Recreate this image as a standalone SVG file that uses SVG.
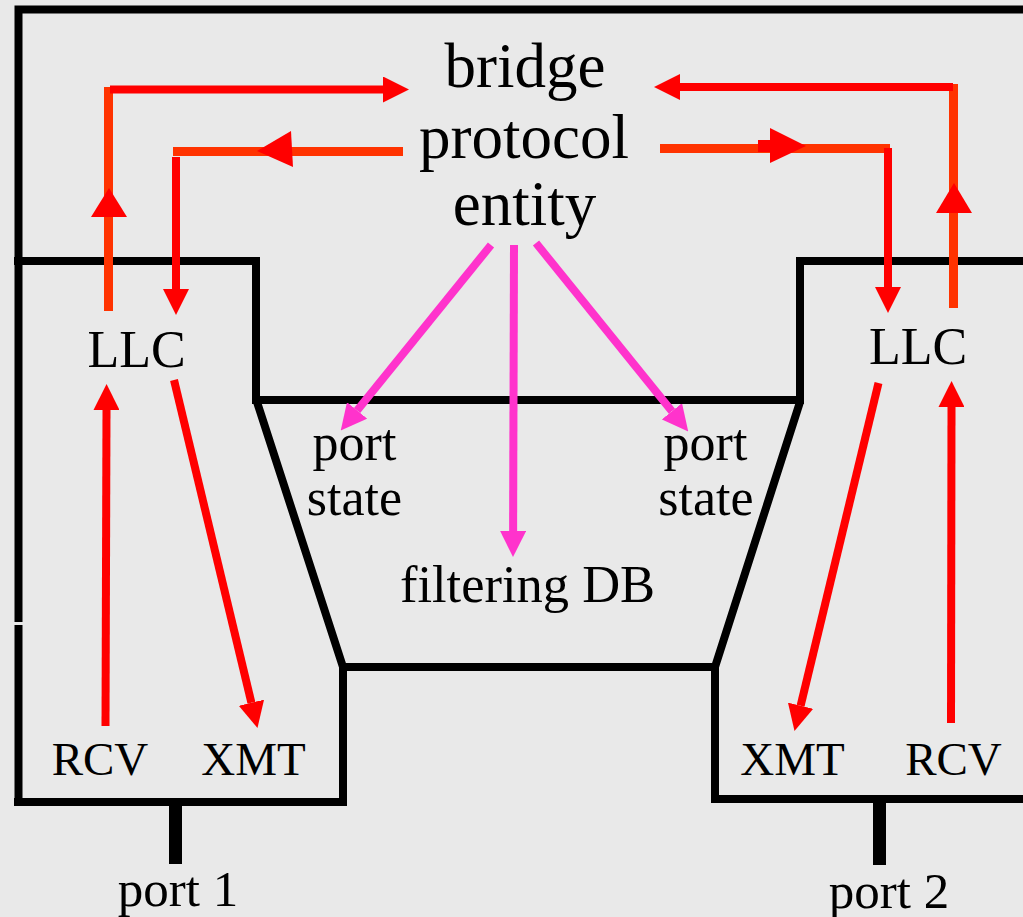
<svg xmlns="http://www.w3.org/2000/svg" width="1023" height="917" viewBox="0 0 1023 917">
<defs>
<style>
.frame{fill:none;stroke:#000;stroke-width:8;stroke-linecap:butt;stroke-linejoin:miter}
.stub{stroke:#000;stroke-width:13}
.t{font-family:"Liberation Serif","Times New Roman",serif;fill:#000;text-anchor:middle}
.red{stroke:#ff0000;fill:none;stroke-width:8}
.org{stroke:#ff3300;fill:none;stroke-width:9}
.mag{stroke:#ff33cc;fill:none;stroke-width:8}
.rh{fill:#ff0000}
.mh{fill:#ff33cc}
</style>
<marker id="ar" markerUnits="userSpaceOnUse" markerWidth="26" markerHeight="26" refX="0" refY="12" orient="auto" viewBox="0 0 24 24">
<path d="M0,0 L24,12 L0,24 z" fill="#ff0000"/>
</marker>
<marker id="am" markerUnits="userSpaceOnUse" markerWidth="26" markerHeight="26" refX="0" refY="12" orient="auto" viewBox="0 0 24 24">
<path d="M0,0 L24,12 L0,24 z" fill="#ff33cc"/>
</marker>
</defs>
<rect x="0" y="0" width="1023" height="917" fill="#e9e9e9"/>

<g id="frame">
<path class="frame" d="M1023,9.5 H18.5 V622"/>
<path class="frame" d="M18.5,625 V806"/>
<path class="frame" d="M14,261 H256 V400 H800 V261 H1023"/>
<path class="frame" d="M257,402 L343,667 H715 L800,402"/>
<path class="frame" d="M343,667 V802 H14"/>
<path class="frame" d="M715,667 V799 H1023"/>
</g>

<g id="bridge-protocol-entity">
<text class="t" x="525" y="87" font-size="63">bridge</text>
<text class="t" x="524" y="158" font-size="63">protocol</text>
<text class="t" x="524.5" y="225" font-size="63">entity</text>
</g>

<g id="llc-left"><text class="t" x="136.5" y="367" font-size="52">LLC</text></g>
<g id="llc-right"><text class="t" x="918" y="364" font-size="52">LLC</text></g>

<g id="port-state-left">
<text class="t" x="354.5" y="460" font-size="52">port</text>
<text class="t" x="354.5" y="515" font-size="52">state</text>
</g>
<g id="port-state-right">
<text class="t" x="705.5" y="460" font-size="52">port</text>
<text class="t" x="706" y="515" font-size="52">state</text>
</g>
<g id="filtering-db"><text class="t" x="527.5" y="602" font-size="52.5">filtering DB</text></g>

<g id="rcv-left"><text class="t" x="100" y="775" font-size="47">RCV</text></g>
<g id="xmt-left"><text class="t" x="253.5" y="775" font-size="47">XMT</text></g>
<g id="xmt-right"><text class="t" x="792.5" y="775" font-size="47">XMT</text></g>
<g id="rcv-right"><text class="t" x="953.5" y="775" font-size="47">RCV</text></g>

<g id="port1">
<line class="stub" x1="175.5" y1="806" x2="175.5" y2="864"/>
<text class="t" x="178" y="906" font-size="51">port 1</text>
</g>
<g id="port2">
<line class="stub" x1="879.5" y1="803" x2="879.5" y2="865"/>
<text class="t" x="889" y="908" font-size="51">port 2</text>
</g>

<g id="connectors">
<!-- left outer loop -->
<line class="org" x1="108.5" y1="311" x2="108.5" y2="87"/>
<polygon class="rh" points="109,188 91,217 127,217"/>
<line class="red" x1="110" y1="89.5" x2="383" y2="89.5" stroke-width="7" marker-end="url(#ar)"/>
<!-- left inner loop -->
<line class="org" x1="403" y1="151.5" x2="173" y2="151.5"/>
<polygon class="rh" points="257,151 291,131 293,167"/>
<line class="red" x1="176" y1="157" x2="176" y2="289" marker-end="url(#ar)"/>
<!-- right outer loop -->
<line class="org" x1="953.5" y1="308" x2="953.5" y2="84"/>
<polygon class="rh" points="954,183 936,213 972,213"/>
<line class="red" x1="953" y1="87" x2="680" y2="87" marker-end="url(#ar)"/>
<!-- right inner loop -->
<line class="org" x1="660" y1="148.5" x2="890" y2="148.5"/>
<rect class="rh" x="758" y="140" width="12" height="12"/>
<polygon class="rh" points="770,128 806,146 770,163"/>
<line class="red" x1="888" y1="148" x2="888" y2="287" marker-end="url(#ar)"/>
<!-- left LLC -->
<line class="red" x1="105.5" y1="726" x2="106.5" y2="410" marker-end="url(#ar)"/>
<line class="red" x1="174" y1="380" x2="251.4" y2="702.7" marker-end="url(#ar)"/>
<!-- right LLC -->
<line class="red" x1="878.5" y1="383" x2="800.6" y2="705.7" marker-end="url(#ar)"/>
<line class="red" x1="951" y1="723" x2="951.5" y2="407" marker-end="url(#ar)"/>
<!-- magenta -->
<line class="mag" x1="491" y1="245" x2="357.1" y2="410.4" marker-end="url(#am)"/>
<line class="mag" x1="514" y1="245" x2="513.1" y2="531" marker-end="url(#am)"/>
<line class="mag" x1="536" y1="243" x2="671.9" y2="411.3" marker-end="url(#am)"/>
</g>
</svg>
